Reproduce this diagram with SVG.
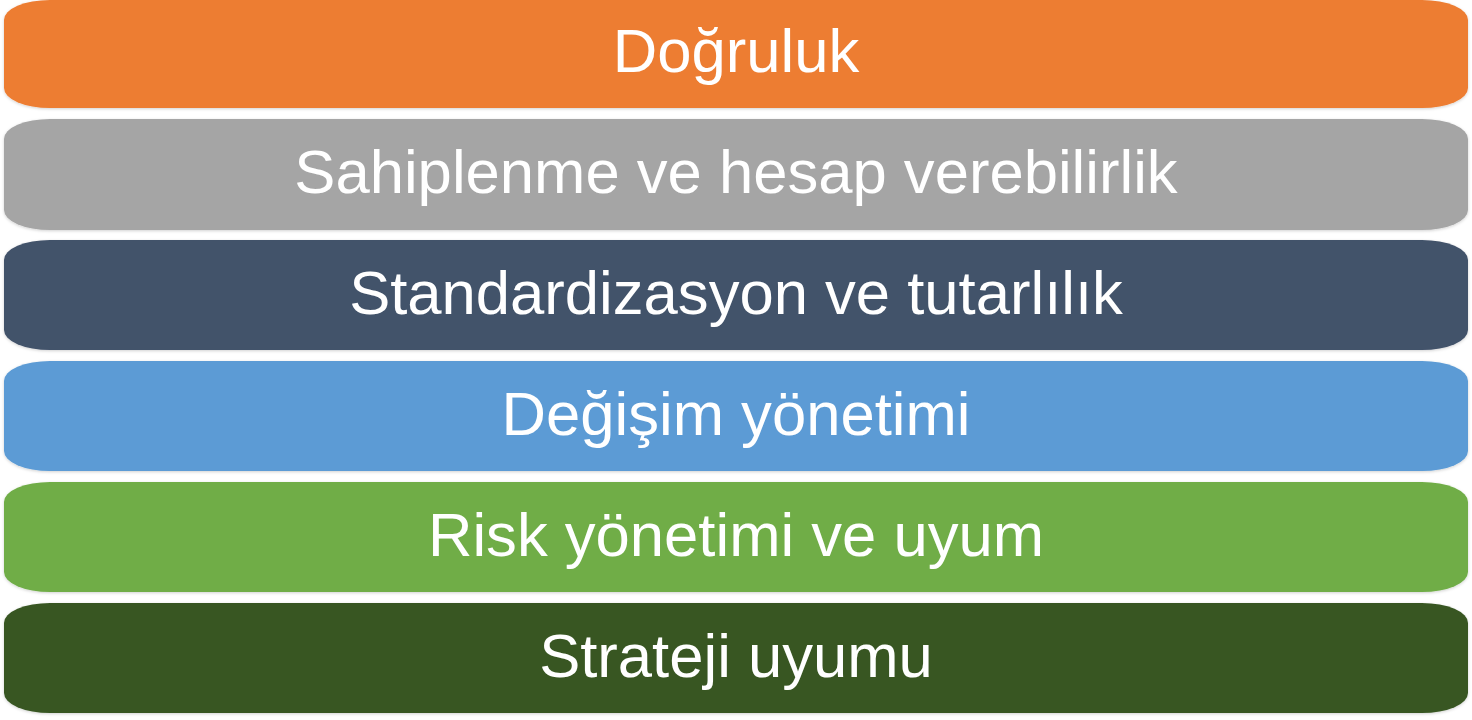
<svg xmlns="http://www.w3.org/2000/svg" width="1472" height="720" viewBox="0 0 1472 720">
<defs>
<filter id="sh" x="-2%" y="-10%" width="104%" height="120%">
<feGaussianBlur in="SourceAlpha" stdDeviation="1.5"/>
<feOffset dx="0" dy="1" result="b"/>
<feFlood flood-color="#000" flood-opacity="0.18"/>
<feComposite in2="b" operator="in"/>
<feMerge><feMergeNode/><feMergeNode in="SourceGraphic"/></feMerge>
</filter>
</defs>
<style>
.lbl{font-family:"Liberation Sans",Arial,sans-serif;font-size:61.6px;fill:#ffffff;text-anchor:middle}
.band{filter:url(#sh)}
</style>
<rect width="1472" height="720" fill="#ffffff"/>
<g id="n1"><path class="band" fill="#ED7D31" d="M50,0 H1422 A46,20 0 0 1 1468,20 V88 A46,20 0 0 1 1422,108 H50 A46,20 0 0 1 4,88 V20 A46,20 0 0 1 50,0 Z"/><text class="lbl" x="736" y="72">Doğruluk</text></g>
<g id="n2"><path class="band" fill="#A5A5A5" d="M50,119 H1422 A46,20 0 0 1 1468,139 V210 A46,20 0 0 1 1422,230 H50 A46,20 0 0 1 4,210 V139 A46,20 0 0 1 50,119 Z"/><text class="lbl" x="736" y="193">Sahiplenme ve hesap verebilirlik</text></g>
<g id="n3"><path class="band" fill="#42526A" d="M50,240 H1422 A46,20 0 0 1 1468,260 V330 A46,20 0 0 1 1422,350 H50 A46,20 0 0 1 4,330 V260 A46,20 0 0 1 50,240 Z"/><text class="lbl" x="736" y="314">Standardizasyon ve tutarlılık</text></g>
<g id="n4"><path class="band" fill="#5B9BD5" d="M50,361 H1422 A46,20 0 0 1 1468,381 V451 A46,20 0 0 1 1422,471 H50 A46,20 0 0 1 4,451 V381 A46,20 0 0 1 50,361 Z"/><text class="lbl" x="736" y="435">Değişim yönetimi</text></g>
<g id="n5"><path class="band" fill="#70AD47" d="M50,482 H1422 A46,20 0 0 1 1468,502 V572 A46,20 0 0 1 1422,592 H50 A46,20 0 0 1 4,572 V502 A46,20 0 0 1 50,482 Z"/><text class="lbl" x="736" y="556">Risk yönetimi ve uyum</text></g>
<g id="n6"><path class="band" fill="#385723" d="M50,603 H1422 A46,20 0 0 1 1468,623 V693 A46,20 0 0 1 1422,713 H50 A46,20 0 0 1 4,693 V623 A46,20 0 0 1 50,603 Z"/><text class="lbl" x="736" y="677">Strateji uyumu</text></g>
<g id="connectors"/>
</svg>
